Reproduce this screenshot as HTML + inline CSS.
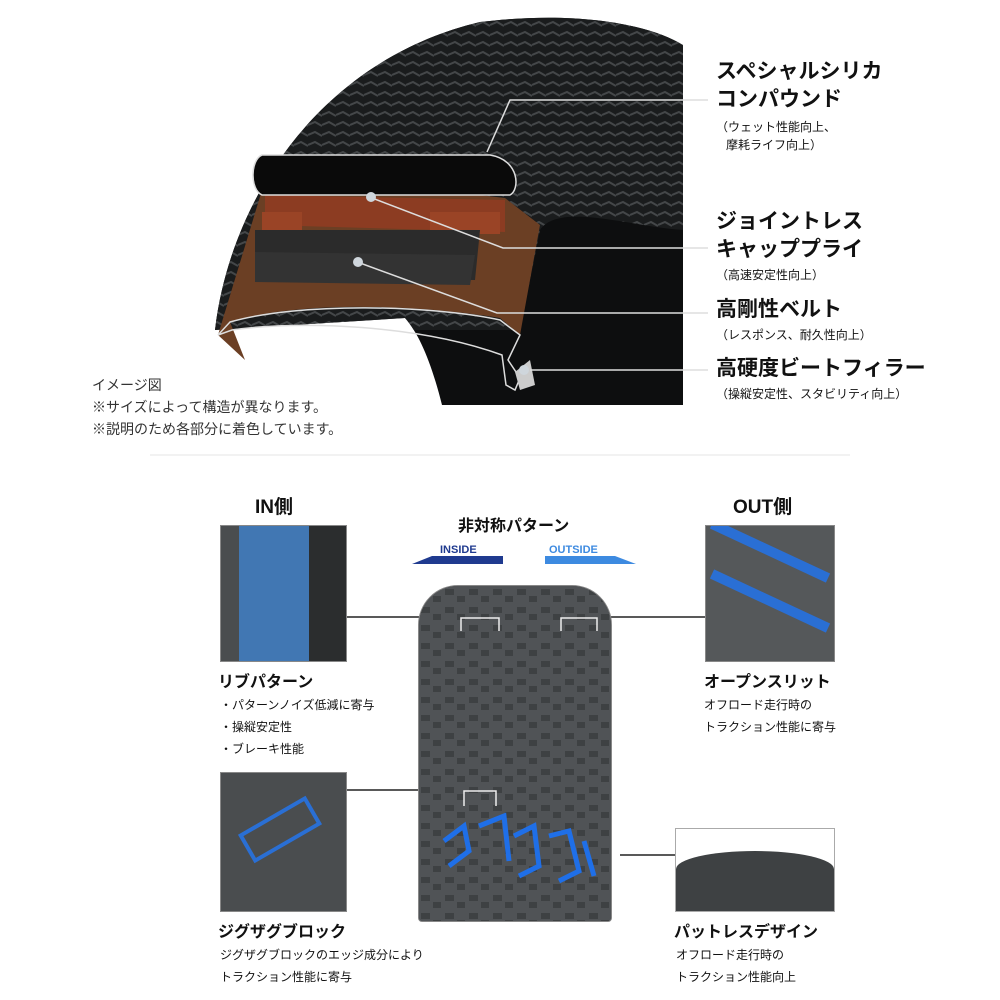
<!DOCTYPE html>
<html><head><meta charset="utf-8"><style>
body{margin:0;width:1000px;height:1000px;background:#fff;position:relative;overflow:hidden;font-family:"Liberation Sans","Noto Sans CJK JP",sans-serif;color:#111}
.a{position:absolute;white-space:nowrap}
.h{font-weight:bold;font-size:21px;line-height:28px}
.s{font-size:12px;line-height:18px}
.b{font-weight:bold;font-size:16px}
.box{position:absolute;background:#3a3d3f;border:1px solid #888;overflow:hidden}
</style></head><body>
<svg class="a" style="left:0;top:0" width="1000" height="1000">
<defs>
<pattern id="tr" width="14" height="10" patternUnits="userSpaceOnUse"><rect width="14" height="10" fill="#1c1e1f"/><path d="M0 5 L7 2 L14 6" stroke="#4a4d4f" stroke-width="2" fill="none"/></pattern>
<pattern id="ct" width="24" height="18" patternUnits="userSpaceOnUse"><rect width="24" height="18" fill="#505356"/><path d="M2 3 h9 v6 h-9z M14 10 h8 v6 h-8z" fill="#3e4143"/></pattern>
<clipPath id="tc"><path d="M215 330 C230 200 320 60 480 22 C580 10 650 25 683 45 L683 405 L442 405 C432 365 420 335 405 318 Z"/></clipPath>
</defs>
<path d="M215 330 C230 200 320 60 480 22 C580 10 650 25 683 45 L683 405 L442 405 C432 365 420 335 405 318 Z" fill="#0d0e0f"/>
<g clip-path="url(#tc)">
<path d="M200 330 C220 200 300 40 480 15 C580 5 650 20 690 40 L690 230 C640 230 560 200 540 230 L520 330 Z" fill="url(#tr)" opacity="0.9"/>
</g>
<path d="M262 190 C330 185 440 190 505 198 L540 225 L520 335 L500 318 C420 305 300 300 230 322 L245 360 L218 335 Z" fill="#6b3f24"/>
<path d="M265 195 L505 200 L505 232 L265 225Z" fill="#8c3c22"/>
<rect x="262" y="212" width="40" height="18" fill="#9a4426"/><rect x="430" y="212" width="70" height="22" fill="#9a4426"/>
<path d="M255 230 L480 230 L475 280 L255 278Z" fill="#2b2b2b"/>
<path d="M255 252 L475 255 L470 285 L255 282Z" fill="#333"/>
<path d="M262 155 L490 155 C520 160 520 190 510 195 L262 195 C250 190 250 160 262 155Z" fill="#0a0a0a" stroke="#ddd" stroke-width="1.5"/>
<path d="M218 335 L230 322 C300 302 430 305 500 320 L520 335 L508 360 L520 378 L515 390 L506 385 L502 355 C420 325 300 320 232 330Z" fill="none" stroke="#ddd" stroke-width="1.5"/>
<path d="M530 360 L535 385 L520 390 L515 372Z" fill="#ccc"/>
<g stroke="#ddd" stroke-width="1.5" fill="none">
<path d="M708 100 L510 100 L487 152"/>
<path d="M708 248 L503 248 L372 198"/>
<path d="M708 313 L497 313 L360 263"/>
<path d="M708 370 L530 370"/>
</g>
<circle cx="371" cy="197" r="5" fill="#cfd6dc"/><circle cx="358" cy="262" r="5" fill="#cfd6dc"/><circle cx="524" cy="370" r="5" fill="#cfd6dc"/>
<line x1="150" y1="455" x2="850" y2="455" stroke="#e4e4e4"/>
<path d="M412 564 L432 556 L503 556 L503 564Z" fill="#1f3a8f"/>
<path d="M545 556 L615 556 L636 564 L545 564Z" fill="#3d8ae0"/>
<g stroke="#222" stroke-width="1.5" fill="none">
<path d="M345 617 L460 617"/><path d="M580 617 L705 617"/>
<path d="M345 790 L495 790"/><path d="M620 855 L675 855"/>
</g>
</svg>
<div class="a h" style="left:716px;top:58px">スペシャルシリカ</div>
<div class="a h" style="left:716px;top:86px">コンパウンド</div>
<div class="a s" style="left:716px;top:118px">（ウェット性能向上、</div>
<div class="a s" style="left:726px;top:136px">摩耗ライフ向上）</div>
<div class="a h" style="left:716px;top:208px">ジョイントレス</div>
<div class="a h" style="left:716px;top:236px">キャッププライ</div>
<div class="a s" style="left:716px;top:266px">（高速安定性向上）</div>
<div class="a h" style="left:716px;top:296px">高剛性ベルト</div>
<div class="a s" style="left:716px;top:326px">（レスポンス、耐久性向上）</div>
<div class="a h" style="left:716px;top:355px">高硬度ビートフィラー</div>
<div class="a s" style="left:716px;top:385px">（操縦安定性、スタビリティ向上）</div>
<div class="a" style="left:92px;top:374px;font-size:14px;line-height:22px;color:#333">イメージ図<br>※サイズによって構造が異なります。<br>※説明のため各部分に着色しています。</div>

<div class="a" style="left:255px;top:492px;font-weight:bold;font-size:19px">IN側</div>
<div class="a" style="left:733px;top:492px;font-weight:bold;font-size:19px">OUT側</div>
<div class="a b" style="left:458px;top:512px">非対称パターン</div>
<div class="a" style="left:440px;top:544px;font-size:11px;font-weight:bold;color:#1f3a8f">INSIDE</div>
<div class="a" style="left:549px;top:544px;font-size:11px;font-weight:bold;color:#3d8ae0">OUTSIDE</div>

<div class="box" style="left:220px;top:525px;width:125px;height:135px;background:#4a4d4f">
<div style="position:absolute;left:18px;top:0;width:70px;height:135px;background:#3f7fc4;opacity:.85"></div>
<div style="position:absolute;left:88px;top:0;width:37px;height:135px;background:#2b2d2e"></div></div>
<div class="box" style="left:705px;top:525px;width:128px;height:135px;background:#55585a">
<div style="position:absolute;left:0;top:20px;width:128px;height:10px;background:#2a6fd4;transform:rotate(25deg)"></div>
<div style="position:absolute;left:0;top:70px;width:128px;height:10px;background:#2a6fd4;transform:rotate(25deg)"></div></div>
<div class="box" style="left:418px;top:585px;width:192px;height:335px;border-radius:40px 40px 4px 4px;background:#3e4143">
<svg width="192" height="335"><rect width="192" height="335" fill="url(#ct)"/><g stroke="#1f6fe8" stroke-width="5" fill="none">
<path d="M25 255 L45 240 L50 265 L30 280"/><path d="M60 240 L85 230 L90 275"/><path d="M95 250 L115 240 L120 280 L100 290"/><path d="M130 250 L150 245 L160 285 L140 295"/><path d="M165 255 L175 290"/></g>
<g stroke="#eee" stroke-width="1.5" fill="none"><path d="M42 45 V32 H80 V45"/><path d="M142 45 V32 H178 V45"/><path d="M45 220 V205 H77 V220"/></g></svg></div>
<div class="box" style="left:220px;top:772px;width:125px;height:138px;background:#4a4d4f">
<div style="position:absolute;left:20px;top:40px;width:70px;height:25px;border:4px solid #2a6fd4;transform:rotate(-30deg)"></div></div>
<div class="box" style="left:675px;top:828px;width:158px;height:82px;background:#fff;border-color:#aaa">
<div style="position:absolute;left:0;top:22px;width:158px;height:60px;background:#3e4143;border-radius:50% 50% 0 0/30% 30% 0 0"></div></div>

<div class="a b" style="left:218px;top:668px">リブパターン</div>
<div class="a s" style="left:220px;top:694px;line-height:22px">・パターンノイズ低減に寄与<br>・操縦安定性<br>・ブレーキ性能</div>
<div class="a b" style="left:704px;top:668px">オープンスリット</div>
<div class="a s" style="left:704px;top:694px;line-height:22px">オフロード走行時の<br>トラクション性能に寄与</div>
<div class="a b" style="left:218px;top:918px">ジグザグブロック</div>
<div class="a s" style="left:220px;top:944px;line-height:22px">ジグザグブロックのエッジ成分により<br>トラクション性能に寄与</div>
<div class="a b" style="left:674px;top:918px">パットレスデザイン</div>
<div class="a s" style="left:676px;top:944px;line-height:22px">オフロード走行時の<br>トラクション性能向上</div>
</body></html>
